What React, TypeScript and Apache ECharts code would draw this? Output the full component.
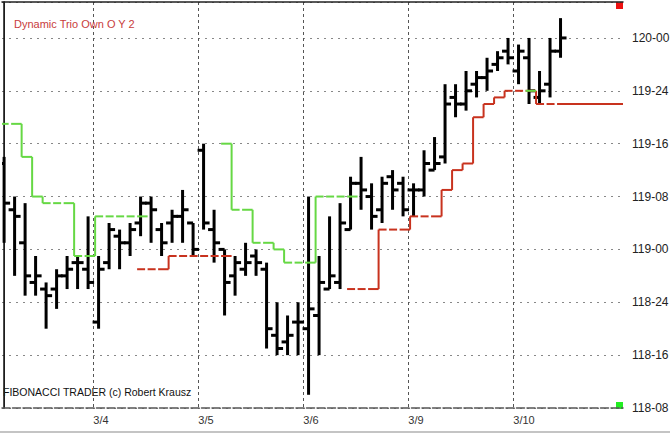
import React, { useEffect, useRef } from "react";
import * as echarts from "echarts";

// Session labels on the time axis and the index of the first bar of each session
const dayLabels = ["3/4", "3/5", "3/6", "3/9", "3/10"];
const dayFirstBar = [9, 19, 29, 39, 49];

// Price scale tick labels (T-bond quotes, 32nds)
const priceTicks = ["118-08", "118-16", "118-24", "119-00", "119-08", "119-16", "119-24", "120-00"];

// OHLC bars (quotes in 32nds)
const highs = [
  "119-14", "119-08", "119-07", "118-31", "118-27", "118-29", "118-31", "118-31", "119-05", "118-31",
  "119-04", "119-03", "119-04", "119-08", "119-08", "119-04", "119-06", "119-09", "119-04", "119-16",
  "119-06", "119-00", "118-31", "119-01", "119-00", "118-30", "118-24", "118-22", "118-24", "119-08",
  "118-31", "119-05", "119-07", "119-11", "119-14", "119-10", "119-11", "119-12", "119-11", "119-10",
  "119-15", "119-17", "119-25", "119-25", "119-27", "119-27", "119-29", "119-30", "120-00", "119-31",
  "120-00", "119-27", "120-00", "120-03",
];
const lows = [
  "119-01", "118-28", "118-25", "118-25", "118-20", "118-23", "118-26", "118-26", "118-26", "118-20",
  "118-29", "118-29", "118-31", "119-02", "119-01", "118-31", "119-01", "119-01", "118-31", "119-03",
  "118-30", "118-22", "118-25", "118-28", "118-28", "118-17", "118-16", "118-16", "118-16", "118-10",
  "118-16", "118-26", "118-26", "119-03", "119-06", "119-03", "119-04", "119-06", "119-05", "119-05",
  "119-08", "119-12", "119-13", "119-20", "119-21", "119-23", "119-24", "119-27", "119-28", "119-25",
  "119-22", "119-22", "119-23", "119-29",
];
const opens = [
  "119-13", "119-06", "119-01", "118-27", "118-26", "118-26", "118-28", "118-30", "118-29", "118-21",
  "118-30", "119-02", "119-01", "119-04", "119-07", "119-03", "119-04", "119-05", "119-04", "119-15",
  "119-03", "119-00", "118-28", "118-29", "118-31", "118-29", "118-19", "118-18", "118-21", "118-20",
  "118-22", "118-26", "118-27", "119-03", "119-10", "119-08", "119-06", "119-11", "119-10", "119-09",
  "119-09", "119-12", "119-14", "119-23", "119-22", "119-25", "119-26", "119-28", "119-30", "119-27",
  "119-29", "119-23", "119-25", "119-30",
];
const closes = [
  "119-07", "119-05", "118-28", "118-28", "118-25", "118-28", "118-29", "118-30", "118-27", "118-29",
  "119-03", "119-01", "119-03", "119-07", "119-06", "119-01", "119-05", "119-06", "119-00", "119-04",
  "119-01", "118-27", "118-30", "118-30", "118-30", "118-20", "118-17", "118-19", "118-21", "118-23",
  "118-27", "118-28", "119-04", "119-10", "119-09", "119-05", "119-10", "119-09", "119-06", "119-09",
  "119-13", "119-13", "119-22", "119-22", "119-24", "119-26", "119-27", "119-29", "119-29", "119-30",
  "119-24", "119-24", "119-30", "120-00",
];

// Dynamic Trio stop levels: green (above price) and red (below price)
const greenStop: (string | null)[] = [
  "119-19", "119-19", "119-14", "119-08", "119-07", "119-07", "119-07", "118-31", "118-31", "119-05",
  "119-05", "119-05", "119-05", "119-05", null, null, null, null, null, null,
  null, "119-16", "119-06", "119-06", "119-01", "119-01", "119-00", "118-30", "118-30", "118-30",
  "119-08", "119-08", "119-08", "119-08", null, null, null, null, null, null,
  null, null, null, null, null, null, null, null, null, null,
  "119-24", null, null, null,
];
const redStop: (string | null)[] = [
  null, null, null, null, null, null, null, null, null, null,
  null, null, null, "118-29", "118-29", "118-29", "118-31", "118-31", "118-31", "118-31",
  "118-31", "118-31", null, null, null, null, null, null, null, null,
  null, null, null, "118-26", "118-26", "118-26", "119-03", "119-03", "119-03", "119-05",
  "119-05", "119-05", "119-09", "119-12", "119-13", "119-20", "119-22", "119-23", "119-24", "119-24",
  "119-24", "119-22", "119-22", "119-22",
];

const FONT = "Arial, 'Liberation Sans', sans-serif";

function parseQuote(q: string): number {
  const [h, t] = q.split("-");
  return Number(h) + Number(t) / 32;
}
function formatQuote(v: number): string {
  const total = Math.round(v * 32);
  const h = Math.floor(total / 32);
  const t = total - h * 32;
  return `${h}-${String(t).padStart(2, "0")}`;
}

function stepData(levels: (string | null)[]) {
  const out: number[][] = [];
  levels.forEach((q, i) => {
    if (q == null) return;
    const v = parseQuote(q);
    const prev = i > 0 && levels[i - 1] != null ? parseQuote(levels[i - 1] as string) : -1;
    const next = i < levels.length - 1 && levels[i + 1] != null ? parseQuote(levels[i + 1] as string) : -1;
    const last = i === levels.length - 1 ? 1 : 0;
    out.push([i, v, prev, next, last]);
  });
  return out;
}

function stepRenderer(color: string) {
  return (params: any, api: any) => {
    const i = api.value(0);
    const v = api.value(1);
    const p = api.value(2);
    const n = api.value(3);
    const last = api.value(4);
    const a = api.coord([i - 0.33, v]);
    const b = api.coord([i + 0.67, v]);
    let xEnd = b[0] - (n === v ? 2.5 : 0);
    if (last) xEnd = params.coordSys.x + params.coordSys.width;
    const style = { stroke: color, lineWidth: 2 };
    const children: any[] = [
      { type: "line", shape: { x1: a[0], y1: a[1], x2: xEnd, y2: a[1] }, style },
    ];
    if (p >= 0 && p !== v) {
      const pc = api.coord([i - 0.33, p]);
      children.push({ type: "line", shape: { x1: a[0], y1: pc[1], x2: a[0], y2: a[1] }, style });
    }
    return { type: "group", children };
  };
}

export default function App() {
  const ref = useRef<HTMLDivElement>(null);
  useEffect(() => {
    if (!ref.current) return;
    const chart = echarts.init(ref.current, undefined, { renderer: "svg" });
    const xMin = -0.2;
    const xMax = 58.95;
    const yMin = parseQuote(priceTicks[0]);
    const yMax = 120.17;
    const boundaries = dayFirstBar.map((b) => b - 0.5);

    const barData = highs.map((h, i) => [
      i,
      parseQuote(opens[i]),
      parseQuote(h),
      parseQuote(lows[i]),
      parseQuote(closes[i]),
    ]);

    chart.setOption({
      animation: false,
      textStyle: { fontFamily: FONT },
      title: {
        text: "Dynamic Trio Own O Y 2",
        left: 14,
        top: 18,
        padding: 0,
        textStyle: { fontSize: 11, fontWeight: "normal", color: "#c83c3c", fontFamily: FONT },
      },
      grid: { left: 2, right: 47, top: 2, bottom: 25, outerBoundsMode: "none", containLabel: false },
      xAxis: [
        {
          type: "value",
          min: xMin,
          max: xMax,
          position: "bottom",
          axisLine: { show: true, lineStyle: { color: "#555", width: 1.5, type: [8, 2.5] } },
          axisTick: { show: false, customValues: boundaries },
          axisLabel: {
            customValues: boundaries,
            formatter: (val: number) => {
              const k = boundaries.findIndex((b) => Math.abs(b - val) < 1e-6);
              return k >= 0 ? dayLabels[k] : "";
            },
            align: "left",
            margin: 6,
            fontSize: 11,
            color: "#333",
            fontFamily: FONT,
          },
          splitLine: { show: true, lineStyle: { color: "#555", width: 1, type: [3, 3] } },
        },
        {
          type: "value",
          min: xMin,
          max: xMax,
          position: "top",
          axisLine: { show: true, lineStyle: { color: "#222", width: 1.5 } },
          axisTick: { show: false },
          axisLabel: { show: false },
          splitLine: { show: false },
        },
      ],
      yAxis: [
        {
          type: "value",
          position: "right",
          min: yMin,
          max: yMax,
          interval: 0.25,
          axisLine: { show: true, lineStyle: { color: "#444", width: 1 } },
          axisTick: { show: false },
          axisLabel: {
            showMaxLabel: false,
            margin: 9,
            fontSize: 12,
            color: "#222",
            fontFamily: FONT,
            formatter: (v: number) => {
              const s = formatQuote(v);
              return priceTicks.includes(s) && Math.abs(v * 4 - Math.round(v * 4)) < 1e-6 ? s : "";
            },
          },
          splitLine: { show: true, lineStyle: { color: "#888", width: 1, type: [2, 5] } },
        },
        {
          type: "value",
          position: "left",
          min: yMin,
          max: yMax,
          axisLine: { show: true, lineStyle: { color: "#111", width: 1.5 } },
          axisTick: { show: false },
          axisLabel: { show: false },
          splitLine: { show: false },
        },
      ],
      series: [
        {
          type: "custom",
          name: "bars",
          xAxisIndex: 0,
          yAxisIndex: 0,
          clip: true,
          z: 2,
          encode: { x: 0, y: [1, 2, 3, 4] },
          data: barData,
          renderItem: (params: any, api: any) => {
            const x = api.value(0);
            const o = api.coord([x, api.value(1)]);
            const h = api.coord([x, api.value(2)]);
            const l = api.coord([x, api.value(3)]);
            const c = api.coord([x, api.value(4)]);
            const px = o[0];
            const st = { stroke: "#000", lineWidth: 3 };
            return {
              type: "group",
              children: [
                { type: "line", shape: { x1: px, y1: h[1], x2: px, y2: l[1] }, style: st },
                { type: "line", shape: { x1: px - 6, y1: o[1], x2: px, y2: o[1] }, style: st },
                { type: "line", shape: { x1: px, y1: c[1], x2: px + 6, y2: c[1] }, style: st },
              ],
            };
          },
        },
        {
          type: "custom",
          name: "red stop",
          xAxisIndex: 0,
          yAxisIndex: 0,
          clip: true,
          z: 3,
          encode: { x: 0, y: 1 },
          data: stepData(redStop),
          renderItem: stepRenderer("#c8321e"),
        },
        {
          type: "custom",
          name: "green stop",
          xAxisIndex: 0,
          yAxisIndex: 0,
          clip: true,
          z: 3,
          encode: { x: 0, y: 1 },
          data: stepData(greenStop),
          renderItem: stepRenderer("#66d844"),
        },
      ],
      graphic: [
        {
          type: "text",
          left: 3,
          top: 386,
          style: {
            text: "FIBONACCI TRADER (c) Robert Krausz",
            fontSize: 10.5,
            fill: "#111",
            fontFamily: FONT,
          },
        },
        { type: "rect", shape: { x: 616, y: 2, width: 7, height: 7 }, style: { fill: "#ee1111" } },
        { type: "rect", shape: { x: 616, y: 402, width: 7, height: 7 }, style: { fill: "#22ee22" } },
        { type: "rect", shape: { x: 0, y: 431, width: 670, height: 2 }, style: { fill: "#c4c4c4" } },
      ],
    });
    return () => chart.dispose();
  }, []);
  return (
    <div
      ref={ref}
      style={{ position: "absolute", left: 0, top: 0, width: 670, height: 433, background: "#fff" }}
    />
  );
}
